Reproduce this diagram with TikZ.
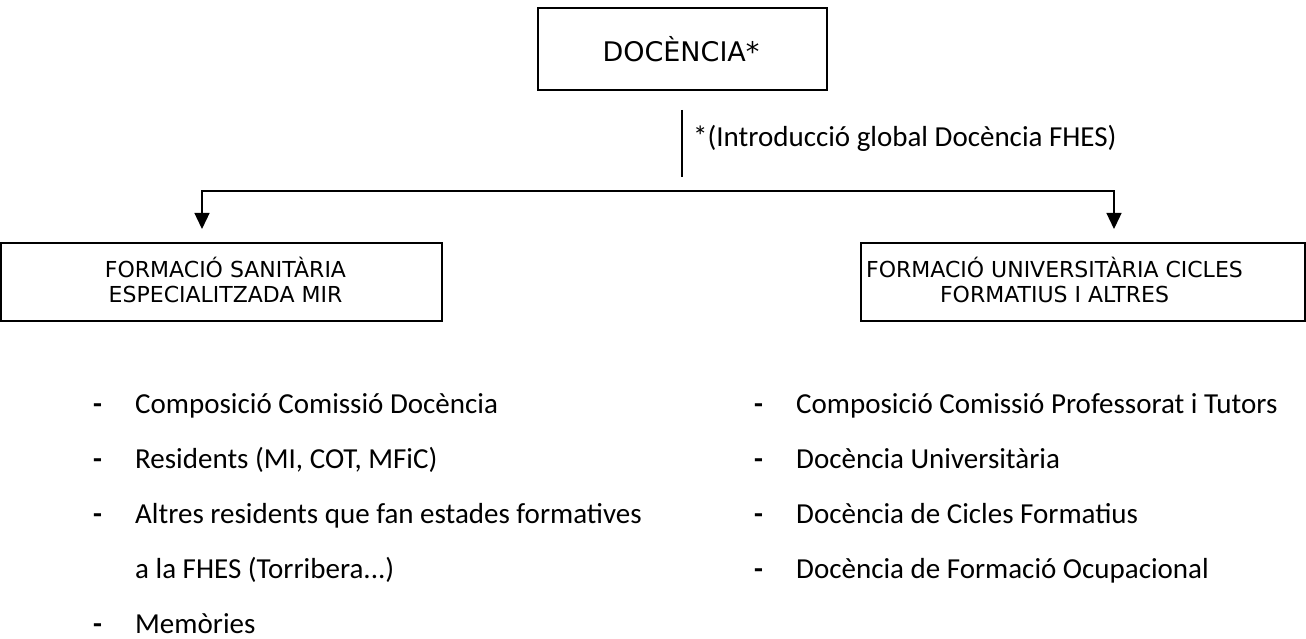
\documentclass[tikz,border=0pt]{standalone}
\usepackage{fontspec}
\setmainfont{Carlito}
\newfontfamily\verd{DejaVu Sans}
\usetikzlibrary{arrows.meta}
\begin{document}
\begin{tikzpicture}[x=1pt,y=-1pt,
  boxnode/.style={draw, line width=1.3pt, inner sep=0pt, outer sep=0pt},
  boxtext/.style={font=\verd\fontsize{22}{26}\selectfont, inner sep=0pt, anchor=base},
  toptext/.style={font=\verd\fontsize{27}{32}\selectfont, inner sep=0pt, anchor=base},
  listtext/.style={font=\fontsize{29}{35}\selectfont, inner sep=0pt, anchor=base west},
  dashmark/.style={font=\bfseries\fontsize{29}{35}\selectfont, inner sep=0pt, anchor=base west},
  conn/.style={line width=1.3pt, -{Triangle[length=16pt,width=15pt]}},
  plainline/.style={line width=1.3pt}]
\useasboundingbox (0,0) rectangle (1306,639);
% top box
\node[boxnode, minimum width=289pt, minimum height=82pt] (top) at (682.5,49) {};
\node[toptext] (doc) at (681,62) {DOCÈNCIA*};
% annotation line
\coordinate (vt) at (682,110);
\coordinate (vb) at (682,177);
\draw[plainline] (vt) -- (vb);
\node[listtext] (intro) at (693,147) {*(Introducció global Docència FHES)};
% connectors
\coordinate (split) at (682,191);
\coordinate (tipl) at (202,229);
\coordinate (tipr) at (1114,229);
\draw[conn] (split) -| (tipl);
\draw[conn] (split) -| (tipr);
% left box
\node[boxnode, minimum width=441pt, minimum height=78pt] (lbox) at (221.5,282) {};
\node[boxtext] (l1) at (225.5,277) {FORMACIÓ SANITÀRIA};
\node[boxtext] (l2) at (225.5,302) {ESPECIALITZADA MIR};
% right box
\node[boxnode, minimum width=444pt, minimum height=78pt] (rbox) at (1083,282) {};
\node[boxtext] (r1) at (1054.5,277) {FORMACIÓ UNIVERSITÀRIA CICLES};
\node[boxtext] (r2) at (1054.5,302) {FORMATIUS I ALTRES};
% left list
\node[dashmark] (ld1) at (93,413) {-};
\node[listtext] (lt1) at (135,413) {Composició Comissió Docència};
\node[dashmark] (ld2) at (93,468) {-};
\node[listtext] (lt2) at (135,468) {Residents (MI, COT, MFiC)};
\node[dashmark] (ld3) at (93,523) {-};
\node[listtext] (lt3) at (135,523) {Altres residents que fan estades formatives};
\node[listtext] (lt3b) at (135,578) {a la FHES (Torribera...)};
\node[dashmark] (ld4) at (93,633) {-};
\node[listtext] (lt4) at (135,633) {Memòries};
% right list
\node[dashmark] (rd1) at (754,413) {-};
\node[listtext] (rt1) at (796,413) {Composició Comissió Professorat i Tutors};
\node[dashmark] (rd2) at (754,468) {-};
\node[listtext] (rt2) at (796,468) {Docència Universitària};
\node[dashmark] (rd3) at (754,523) {-};
\node[listtext] (rt3) at (796,523) {Docència de Cicles Formatius};
\node[dashmark] (rd4) at (754,578) {-};
\node[listtext] (rt4) at (796,578) {Docència de Formació Ocupacional};
\end{tikzpicture}
\end{document}
